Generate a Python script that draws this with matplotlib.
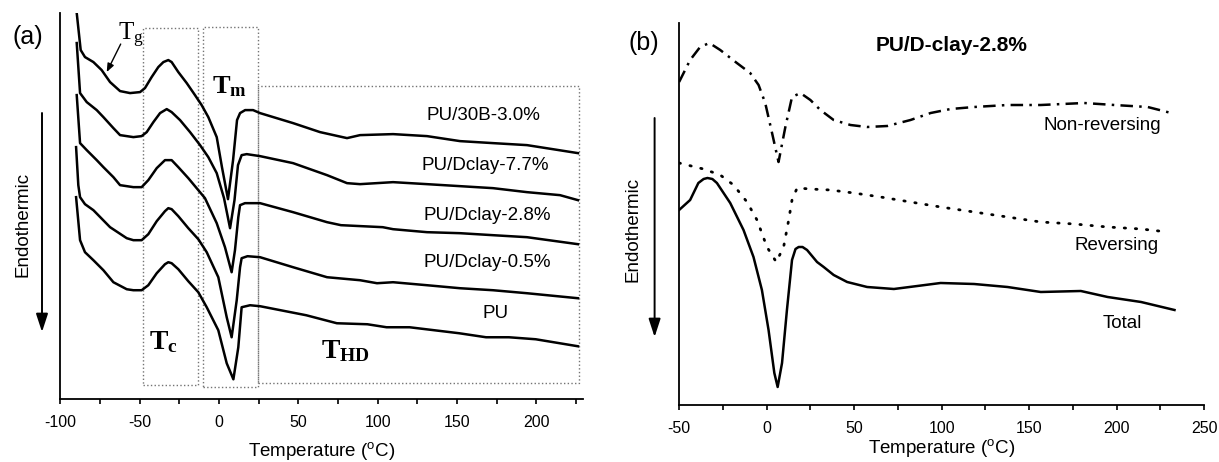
import matplotlib.pyplot as plt
from matplotlib.patches import Rectangle, FancyArrowPatch
from matplotlib.ticker import MultipleLocator

plt.rcParams['font.family'] = 'Liberation Sans'
plt.rcParams['axes.unicode_minus'] = False
plt.rcParams['mathtext.fontset'] = 'custom'
plt.rcParams['mathtext.rm'] = 'Liberation Sans'
plt.rcParams['mathtext.bf'] = 'Liberation Serif:bold'
plt.rcParams['mathtext.sf'] = 'Liberation Serif'

#------------------------------------------------------------------------------
# (a) DSC heating scans, heat flow in arbitrary units (curves stacked)
#------------------------------------------------------------------------------
t_30b  = [-89.6, -87.1, -84.4, -79.1, -73.9, -68.6, -62.3, -56.0, -49.7, -46.6,
          -42.4, -38.2, -35.0, -31.9, -29.8, -25.6, -20.3, -15.1, -10.9, -6.7,
          -1.4, 1.9, 5.7, 8.9, 11.4, 13.3, 16.5, 21.5, 25.9, 46.7, 63.7, 80.7,
          88.9, 109.7, 131.1, 151.9, 172.7, 194.1, 226.2]
hf_30b = [3.86, 3.49, 3.42, 3.37, 3.29, 3.17, 3.08, 3.06, 3.07, 3.11,
          3.22, 3.32, 3.37, 3.39, 3.37, 3.27, 3.16, 3.04, 2.94, 2.82,
          2.62, 2.32, 2.00, 2.39, 2.79, 2.86, 2.89, 2.89, 2.86, 2.76, 2.67, 2.61,
          2.64, 2.65, 2.63, 2.58, 2.56, 2.54, 2.46]

t_d77  = [-89.6, -87.5, -83.3, -77.0, -72.8, -66.5, -62.3, -53.9, -48.7, -45.5,
          -41.3, -37.1, -32.9, -29.8, -24.5, -18.2, -11.9, -6.7, -1.4, 3.2,
          7.0, 9.8, 12.0, 14.3, 17.5, 25.9, 46.7, 68.1, 80.7, 88.9, 109.7,
          131.1, 151.9, 172.7, 194.1, 214.9, 226.2]
hf_d77 = [3.56, 3.06, 2.97, 2.89, 2.82, 2.71, 2.64, 2.62, 2.63, 2.67,
          2.77, 2.86, 2.90, 2.87, 2.79, 2.67, 2.54, 2.42, 2.26, 2.01,
          1.71, 1.99, 2.34, 2.44, 2.45, 2.43, 2.36, 2.24, 2.16, 2.15, 2.17,
          2.15, 2.13, 2.11, 2.07, 2.04, 1.99]

t_d28  = [-89.6, -87.5, -83.3, -77.0, -72.8, -66.5, -62.3, -53.9, -48.7, -44.5,
          -39.2, -34.0, -29.8, -25.6, -19.3, -13.0, -8.8, -1.4, 3.8, 8.0,
          10.1, 12.2, 13.3, 16.4, 25.9, 46.7, 68.1, 76.9, 103.2, 109.7, 131.1,
          151.9, 172.7, 194.1, 226.2]
hf_d28 = [3.04, 2.56, 2.49, 2.39, 2.32, 2.22, 2.14, 2.12, 2.12, 2.19,
          2.31, 2.39, 2.39, 2.32, 2.21, 2.09, 2.01, 1.76, 1.52, 1.27,
          1.49, 1.82, 1.94, 1.96, 1.96, 1.87, 1.77, 1.74, 1.72, 1.70, 1.67,
          1.66, 1.64, 1.62, 1.55]

t_d05  = [-90.0, -88.6, -87.5, -84.4, -79.1, -68.6, -58.1, -53.9, -48.7, -44.5,
          -39.2, -34.0, -31.9, -29.8, -25.6, -19.3, -13.0, -7.7, -0.4, 4.9,
          8.0, 11.2, 13.3, 14.3, 18.0, 25.9, 46.7, 68.1, 88.9, 99.6, 109.7,
          131.1, 151.9, 172.7, 194.1, 226.2]
hf_d05 = [2.52, 2.14, 2.02, 1.95, 1.89, 1.72, 1.61, 1.59, 1.59, 1.65,
          1.78, 1.88, 1.91, 1.90, 1.83, 1.71, 1.60, 1.47, 1.22, 0.82,
          0.62, 0.99, 1.32, 1.41, 1.43, 1.42, 1.32, 1.22, 1.19, 1.16, 1.17,
          1.14, 1.11, 1.09, 1.06, 1.01]

t_pu   = [-90.0, -87.5, -84.4, -79.1, -72.8, -66.5, -58.1, -53.9, -48.7, -44.5,
          -39.2, -34.0, -31.9, -29.8, -25.6, -19.3, -13.0, -7.7, -0.4, 4.9,
          9.1, 12.2, 14.3, 19.6, 26.0, 55.0, 74.3, 93.5, 105.6, 120.1, 151.4,
          168.3, 182.7, 199.6, 226.2]
hf_pu  = [2.02, 1.59, 1.47, 1.39, 1.29, 1.17, 1.10, 1.09, 1.09, 1.14,
          1.26, 1.35, 1.37, 1.36, 1.30, 1.18, 1.07, 0.92, 0.69, 0.36,
          0.20, 0.52, 0.92, 0.94, 0.93, 0.84, 0.76, 0.75, 0.72, 0.72, 0.66,
          0.62, 0.62, 0.60, 0.53]

names_a = ['PU/30B-3.0%', 'PU/Dclay-7.7%', 'PU/Dclay-2.8%', 'PU/Dclay-0.5%', 'PU']

#------------------------------------------------------------------------------
# (b) MDSC signals of PU/D-clay-2.8%
#------------------------------------------------------------------------------
t_nonrev  = [-50.0, -43.7, -38.0, -32.7, -26.5, -17.0, -9.4, -4.6, -0.8, 3.1,
             6.8, 10.7, 14.5, 19.3, 25.0, 30.7, 38.3, 47.9, 57.4, 68.9, 82.2,
             93.7, 105.1, 118.5, 137.6, 156.6, 181.4, 198.6, 217.7, 231.1]
hf_nonrev = [3.23, 3.45, 3.58, 3.62, 3.55, 3.42, 3.32, 3.20, 3.02, 2.72,
             2.43, 2.78, 3.08, 3.12, 3.05, 2.95, 2.85, 2.80, 2.78, 2.79, 2.85,
             2.92, 2.96, 2.98, 3.00, 3.00, 3.02, 3.00, 2.98, 2.92]

t_rev  = [-50.0, -36.1, -26.5, -18.9, -11.2, -5.5, 0.2, 5.5, 9.7, 12.6, 14.5,
          17.4, 25.0, 36.4, 49.8, 65.1, 82.2, 99.4, 118.5, 137.6, 156.6, 175.7,
          194.8, 213.9, 229.2]
hf_rev = [2.42, 2.36, 2.30, 2.20, 2.03, 1.85, 1.58, 1.43, 1.58, 1.85, 2.05,
          2.17, 2.16, 2.15, 2.12, 2.08, 2.03, 1.98, 1.93, 1.88, 1.83, 1.81,
          1.78, 1.76, 1.73]

t_total  = [-50.0, -43.7, -39.0, -36.0, -33.8, -31.0, -28.4, -20.8, -13.2, -7.5,
            -2.7, 1.1, 4.4, 6.3, 8.8, 11.6, 14.5, 16.5, 18.3, 20.5, 23.1, 28.8,
            32.6, 38.3, 46.0, 57.4, 72.7, 86.1, 99.4, 118.5, 137.6, 156.6,
            179.5, 194.8, 213.9, 233.0]
hf_total = [1.95, 2.05, 2.22, 2.26, 2.27, 2.26, 2.22, 2.02, 1.75, 1.48,
            1.15, 0.75, 0.32, 0.18, 0.42, 0.95, 1.45, 1.56, 1.58, 1.58, 1.55, 1.43,
            1.38, 1.30, 1.23, 1.18, 1.16, 1.19, 1.22, 1.21, 1.18, 1.13,
            1.14, 1.08, 1.03, 0.95]

#------------------------------------------------------------------------------
# Figure
#------------------------------------------------------------------------------
fig = plt.figure(figsize=(12.19, 4.62), dpi=100)

ax_a = fig.add_axes([0.0494, 0.1357, 0.4289, 0.8361])
ax_b = fig.add_axes([0.5571, 0.1234, 0.4308, 0.8268])

def style_axis(ax):
    ax.spines[['top', 'right']].set_visible(False)
    for s in ['left', 'bottom']:
        ax.spines[s].set_linewidth(1.3)
    ax.set_yticks([])
    ax.xaxis.set_major_locator(MultipleLocator(50))
    ax.xaxis.set_minor_locator(MultipleLocator(25))
    ax.tick_params(axis='x', which='both', direction='out', length=3.6,
                   width=1.2, labelsize=11.5, pad=8)
    ax.set_xlabel(r'Temperature ($^{\rm o}$C)', fontsize=13.5)

lw = 1.8
for t, hf in [(t_30b, hf_30b), (t_d77, hf_d77), (t_d28, hf_d28),
              (t_d05, hf_d05), (t_pu, hf_pu)]:
    ax_a.plot(t, hf, color='k', lw=lw, solid_joinstyle='round')

ax_a.set_xlim(-100, 229.4)
ax_a.set_ylim(0, 3.86)
style_axis(ax_a)
ax_a.xaxis.labelpad = 7

# transition regions
box = dict(fill=False, ls=':', ec='0.45', lw=1.0)
ax_a.add_patch(Rectangle((-48.0, 0.14), 35.0, 3.57, **box))
ax_a.add_patch(Rectangle((-10.2, 0.12), 35.0, 3.60, **box))
ax_a.add_patch(Rectangle((24.8, 0.16), 202.2, 2.97, **box))

ax_a.text(-63.4, 3.59, r'$\mathsf{T_g}$', fontsize=18, va='baseline')
ax_a.annotate('', xy=(-70.7, 3.27), xytext=(-61.9, 3.55),
              arrowprops=dict(arrowstyle='-|>,head_length=0.5,head_width=0.2',
                              color='k', lw=1.0, mutation_scale=10,
                              shrinkA=0, shrinkB=0))
ax_a.text(-4.6, 3.06, r'$\mathbf{T_m}$', fontsize=19, va='baseline')
ax_a.text(-43.9, 0.50, r'$\mathbf{T_c}$', fontsize=20, va='baseline')
ax_a.text(64.6, 0.41, r'$\mathbf{T_{HD}}$', fontsize=20, va='baseline')

for name, (x, y) in zip(names_a, [(166.4, 2.84), (167.6, 2.34), (168.8, 1.84),
                                  (168.8, 1.37), (174.3, 0.86)]):
    ax_a.text(x, y, name, fontsize=13.5, ha='center', va='center')

# panel (b)
ax_b.plot(t_nonrev, hf_nonrev, color='k', lw=lw, ls=(0, (5, 2.5, 1, 2.5)))
ax_b.plot(t_rev, hf_rev, color='k', lw=2.0, ls=(0, (0.5, 3.5)),
          dash_capstyle='round')
ax_b.plot(t_total, hf_total, color='k', lw=lw, solid_joinstyle='round')

ax_b.set_xlim(-50, 250)
ax_b.set_ylim(0, 3.82)
style_axis(ax_b)
ax_b.xaxis.labelpad = 1

ax_b.text(105.4, 3.60, 'PU/D-clay-2.8%', fontsize=15, fontweight='bold',
          ha='center', va='center')
ax_b.text(191.5, 2.80, 'Non-reversing', fontsize=13.5, ha='center', va='center')
ax_b.text(199.9, 1.59, 'Reversing', fontsize=13.5, ha='center', va='center')
ax_b.text(203.4, 0.815, 'Total', fontsize=13.5, ha='center', va='center')

# panel tags, y labels and endothermic arrows
W, H = 1219.0, 462.0
fig.text(28 / W, 1 - 37 / H, '(a)', fontsize=18, ha='center', va='center')
fig.text(644 / W, 1 - 43 / H, '(b)', fontsize=18, ha='center', va='center')
for x, yc in [(23, 224), (633, 229.5)]:
    fig.text(x / W, 1 - yc / H, 'Endothermic', rotation=90, fontsize=13.5,
             ha='center', va='center')
for x, y0, y1 in [(42, 113, 332), (654.6, 118, 337)]:
    fig.add_artist(FancyArrowPatch((x / W, 1 - y0 / H), (x / W, 1 - y1 / H),
                                   transform=fig.transFigure,
                                   arrowstyle='-|>,head_length=0.55,head_width=0.18',
                                   mutation_scale=20, lw=1.4, color='k',
                                   shrinkA=0, shrinkB=0))

plt.savefig('out.png', dpi=100)
